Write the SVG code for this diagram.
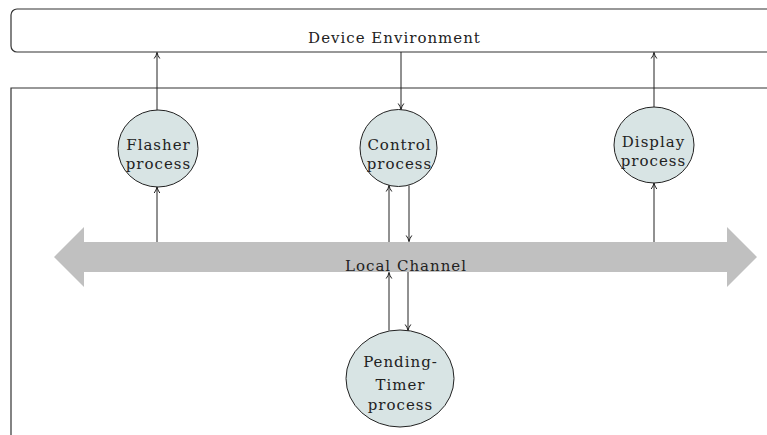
<svg xmlns="http://www.w3.org/2000/svg" width="767" height="435" viewBox="0 0 767 435">
<style>
.t{font-family:"DejaVu Serif","Liberation Serif",serif;font-size:15px;letter-spacing:1px;fill:#222;text-anchor:middle}
.n{fill:#d8e4e4;stroke:#222;stroke-width:1}
.c{stroke:#222;stroke-width:1;fill:none;marker-end:url(#ah)}
.f{stroke:#333;stroke-width:1.2;fill:none}
</style>
<defs>
<marker id="ah" markerWidth="8" markerHeight="8" viewBox="0 0 8 8" refX="7" refY="4" orient="auto" markerUnits="userSpaceOnUse">
<path d="M1,1.2 Q4,3.4 7,4 Q4,4.6 1,6.8" fill="none" stroke="#222" stroke-width="1"/>
</marker>
</defs>
<rect width="767" height="435" fill="#fff"/>
<g id="env">
<rect class="f" x="11" y="9" width="800" height="43" rx="6"/>
<text class="t" x="394.5" y="43">Device Environment</text>
</g>
<g id="frame">
<path class="f" d="M11,435 V88 H767"/>
</g>
<g id="channel">
<polygon points="54,257 84,227 84,242 727,242 727,227 757,257 727,287 727,272 84,272 84,287" fill="#c0c0c0"/>
<text class="t" x="406" y="271">Local Channel</text>
</g>
<g id="flasher">
<ellipse class="n" cx="158" cy="148.5" rx="40" ry="38.5"/>
<text class="t" x="158.5" y="150">Flasher</text>
<text class="t" x="158.5" y="169">process</text>
</g>
<g id="control">
<ellipse class="n" cx="398.5" cy="148" rx="38.5" ry="38.5"/>
<text class="t" x="399.5" y="150">Control</text>
<text class="t" x="399.5" y="169">process</text>
</g>
<g id="display">
<ellipse class="n" cx="654" cy="145" rx="40" ry="38"/>
<text class="t" x="653.5" y="147">Display</text>
<text class="t" x="653.5" y="166">process</text>
</g>
<g id="pending">
<ellipse class="n" cx="400" cy="378.5" rx="54" ry="48.5"/>
<text class="t" x="400.5" y="367">Pending-</text>
<text class="t" x="400.5" y="390">Timer</text>
<text class="t" x="400.5" y="410">process</text>
</g>
<g id="connectors">
<path class="c" d="M157,110 V52.5"/>
<path class="c" d="M157,242 V187"/>
<path class="c" d="M401,52 V109.5"/>
<path class="c" d="M389,242 V185.5"/>
<path class="c" d="M409,185.5 V241.5"/>
<path class="c" d="M654,107 V52.5"/>
<path class="c" d="M654,242 V183"/>
<path class="c" d="M389,330.5 V272.5"/>
<path class="c" d="M408,272 V330.5"/>
</g>
</svg>
